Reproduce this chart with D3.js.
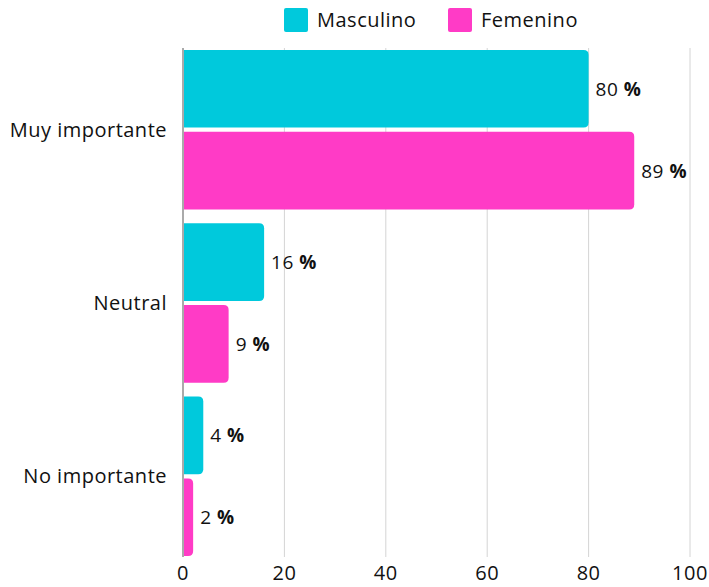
<!DOCTYPE html>
<html><head><meta charset="utf-8">
<script src="https://cdn.jsdelivr.net/npm/d3@7"></script>
<style>body{margin:0;background:#fff;} text{font-family:"Open Sans",sans-serif;fill:#111;letter-spacing:0.5px;}</style>
</head><body>
<svg id="c" width="709" height="587"></svg>
<script>
const categories = ["Muy importante", "Neutral", "No importante"];
const seriesNames = ["Masculino", "Femenino"];
const masculino = [80, 16, 4];
const femenino = [89, 9, 2];
const xTicks = [0, 20, 40, 60, 80, 100];
const colors = ["#00C9DC", "#FF3BC6"];

const svg = d3.select("#c");
const x = d3.scaleLinear().domain([0, 100]).range([183, 690]);
const y = d3.scaleBand().domain(categories).range([43, 563]).paddingInner(0.08).paddingOuter(0.04);
const ys = d3.scaleBand().domain(seriesNames).range([0, y.bandwidth()]).paddingInner(0.05);
const plotTop = 48, plotBottom = 557;

// gridlines
svg.append("g").selectAll("line").data(xTicks.filter(d => d > 0)).join("line")
  .attr("x1", d => x(d)).attr("x2", d => x(d)).attr("y1", plotTop).attr("y2", plotBottom)
  .attr("stroke", "#d4d4d4").attr("stroke-width", 1);

// x tick labels
svg.append("g").selectAll("text").data(xTicks).join("text")
  .attr("x", d => x(d)).attr("y", 580).attr("text-anchor", "middle")
  .attr("font-size", 20).text(d => d);

const data = [];
categories.forEach((c, i) => {
  data.push({cat: c, s: "Masculino", v: masculino[i], col: colors[0]});
  data.push({cat: c, s: "Femenino", v: femenino[i], col: colors[1]});
});

function barPath(d) {
  const x0 = x(0), x1 = x(d.v), y0 = y(d.cat) + ys(d.s), h = ys.bandwidth();
  const r = Math.min(5, (x1 - x0) / 2);
  return `M${x0},${y0}H${x1 - r}Q${x1},${y0} ${x1},${y0 + r}V${y0 + h - r}Q${x1},${y0 + h} ${x1 - r},${y0 + h}H${x0}Z`;
}
svg.append("g").selectAll("path").data(data).join("path")
  .attr("d", barPath).attr("fill", d => d.col);

// value labels
const lbl = svg.append("g").selectAll("text").data(data).join("text")
  .attr("x", d => x(d.v) + 7)
  .attr("y", d => y(d.cat) + ys(d.s) + ys.bandwidth() / 2 + 7)
  .attr("font-size", 19);
lbl.append("tspan").text(d => d.v + " ");
lbl.append("tspan").attr("font-weight", "bold").text("%");

// axis line at 0
svg.append("line").attr("x1", x(0)).attr("x2", x(0)).attr("y1", plotTop).attr("y2", plotBottom)
  .attr("stroke", "#aaaaaa").attr("stroke-width", 2);

// category labels
svg.append("g").selectAll("text").data(categories).join("text")
  .attr("x", 167).attr("y", d => y(d) + y.bandwidth() / 2 + 7)
  .attr("text-anchor", "end").attr("font-size", 20).text(d => d);

// legend
const leg = svg.append("g").selectAll("g").data(seriesNames).join("g")
  .attr("transform", (d, i) => `translate(${[284, 448][i]},8)`);
leg.append("rect").attr("width", 24).attr("height", 24).attr("rx", 2).attr("fill", (d, i) => colors[i]);
leg.append("text").attr("x", 33).attr("y", 19).attr("font-size", 20).text(d => d);
</script>
</body></html>
